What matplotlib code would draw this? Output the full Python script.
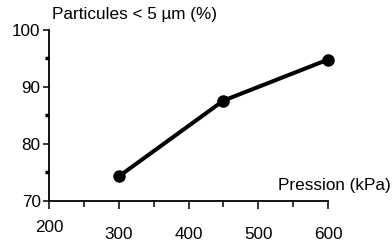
import matplotlib.pyplot as plt
import matplotlib.transforms as mtransforms
from matplotlib.ticker import MultipleLocator

plt.rcParams['font.family'] = ['Liberation Sans', 'DejaVu Sans']

pression = [300, 450, 600]
particules = [74.3, 87.6, 94.8]
x_ticks = [200, 300, 400, 500, 600]
y_ticks = [70, 80, 90, 100]

fig = plt.figure(figsize=(3.92, 2.43), dpi=100)
ax = fig.add_axes([0.125, 0.173, 0.712, 0.704])

ax.plot(pression, particules, color='black', linewidth=2.9,
        marker='o', markersize=8, solid_capstyle='round', clip_on=False)

ax.set_xlim(200, 600)
ax.set_ylim(70, 100)
ax.set_xticks(x_ticks)
ax.set_yticks(y_ticks)
ax.xaxis.set_minor_locator(MultipleLocator(50))
ax.yaxis.set_minor_locator(MultipleLocator(5))

for s in ['top', 'right']:
    ax.spines[s].set_visible(False)
for s in ['left', 'bottom']:
    ax.spines[s].set_linewidth(1.3)

ax.tick_params(axis='both', which='major', labelsize=12.3, width=1.1,
               direction='out', colors='black')
ax.tick_params(axis='x', which='major', length=6, pad=13)
ax.tick_params(axis='y', which='major', length=4, pad=2)
ax.tick_params(axis='x', which='minor', length=4, width=1.1, direction='out')
ax.tick_params(axis='y', which='minor', length=3, width=2.5, direction='out')

# le label 200 est un peu plus haut que les autres
lab = ax.get_xticklabels()[0]
lab.set_transform(lab.get_transform() +
                  mtransforms.ScaledTranslation(0, 5 / 72, fig.dpi_scale_trans))

fig.text(0.133, 0.92, 'Particules < 5 µm (%)', fontsize=12.3, ha='left', va='baseline')
fig.text(0.997, 0.218, 'Pression (kPa)', fontsize=12.3, ha='right', va='baseline')

fig.savefig('out.png', dpi=100)
